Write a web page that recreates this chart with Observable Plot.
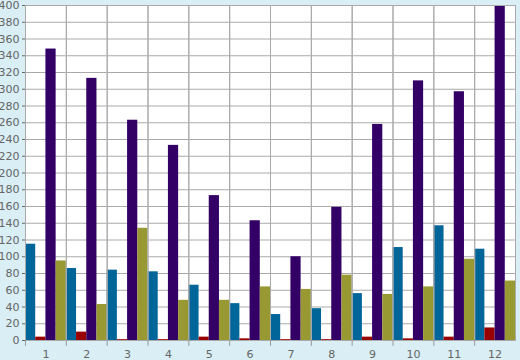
<!DOCTYPE html>
<html><head><meta charset="utf-8">
<script src="https://cdn.jsdelivr.net/npm/d3@7"></script>
<script src="https://cdn.jsdelivr.net/npm/@observablehq/plot@0.6"></script>
<style>html,body{margin:0;padding:0;background:#d9eef5;overflow:hidden;}</style>
</head><body><div id="chart"></div>
<script>
const groups = [1,2,3,4,5,6,7,8,9,10,11,12];
const seriesNames = ["s1","s2","s3","s4"];
const seriesColors = ["#006699","#990000","#330066","#999933"];
const blueValues   = [115, 86, 84, 82, 66, 44, 31, 38, 56, 111, 137, 109];
const redValues    = [4, 10, 1, 1, 4, 2, 1, 1, 4, 2, 4, 15];
const purpleValues = [348, 313, 263, 233, 173, 143, 100, 159, 258, 310, 297, 400];
const oliveValues  = [95, 43, 134, 48, 48, 64, 61, 78, 55, 64, 97, 71];
const yTicks = [0,20,40,60,80,100,120,140,160,180,200,220,240,260,280,300,320,340,360,380,400];

const seriesValues = [blueValues, redValues, purpleValues, oliveValues];
const data = groups.flatMap((g, i) => seriesNames.map((s, j) => ({group: g, series: s, value: seriesValues[j][i]})));
const firstOfGroup = data.filter(d => d.series === seriesNames[0]);

const chart = Plot.plot({
  width: 520, height: 360,
  marginLeft: 25, marginRight: 5, marginTop: 5, marginBottom: 20,
  style: {background: "transparent", fontFamily: "DejaVu Sans", fontSize: "11px", color: "#666"},
  fx: {domain: groups, padding: 0, round: false, label: null, tickSize: 0, tickPadding: 10},
  x: {domain: seriesNames, padding: 0, round: false, axis: null},
  y: {domain: [0, 400], ticks: yTicks, label: null, tickSize: 3, tickPadding: 3},
  color: {domain: seriesNames, range: seriesColors},
  marks: [
    Plot.frame({fill: "white"}),
    Plot.ruleY(yTicks, {stroke: "#aaa"}),
    Plot.barY(data, {fx: "group", x: "series", y: "value", fill: "series", insetLeft: 0, insetRight: 0}),
    Plot.frame({stroke: "#aaa"}),
    Plot.ruleX(firstOfGroup, {fx: "group", x: "series", y1: 0, y2: -7, dx: -5.1, stroke: "#999"})
  ]
});
document.getElementById("chart").appendChild(chart);
</script>
</body></html>
